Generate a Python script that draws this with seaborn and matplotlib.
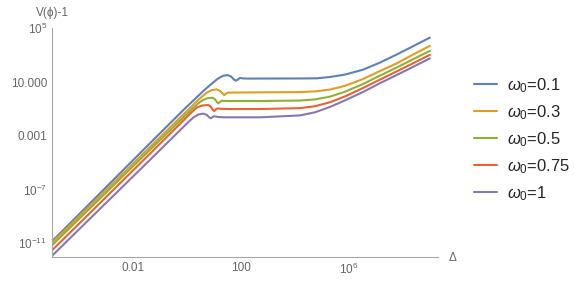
import matplotlib
matplotlib.use("Agg")
from matplotlib import pyplot as plt
from matplotlib.ticker import FixedLocator, FixedFormatter, NullFormatter
import pandas as pd
import seaborn as sns

# values (Delta, V(phi)-1) for each omega_0
delta_01 = [1e-5, 0.043, 0.84, 4.6, 8.4, 14, 21.5, 32, 43, 55, 65, 77, 92, 119, 215,
            1.53e4, 6.5e4, 2.0e5, 7.1e5, 3.3e6, 1.4e7, 5.85e7, 2.34e8, 1e9]
v_01 = [1.35e-11, 2.8e-4, 0.107, 2.75, 7.8, 18, 29, 33, 26, 15.5, 12.6, 15.5, 20.4, 18.6, 18.2,
        18.6, 19, 24, 36, 83, 280, 1120, 4600, 2.05e4]

delta_03 = [1e-5, 0.043, 1.98, 3.6, 5.5, 8.4, 12.6, 16.7, 20.7, 24, 27.8, 33, 46.5, 506,
            1.53e4, 5.5e4, 2.0e5, 7.1e5, 3.3e6, 1.4e7, 5.85e7, 2.34e8, 1e9]
v_03 = [1.05e-11, 1.45e-4, 0.275, 0.83, 1.66, 2.54, 2.86, 2.21, 1.39, 1.08, 1.37, 1.63, 1.66, 1.71,
        1.80, 2.0, 2.77, 5.2, 16.7, 66, 245, 1110, 5000]

delta_05 = [1e-5, 0.043, 1.53, 2.55, 3.92, 5.74, 8.65, 10.9, 12.9, 14.4, 16.7, 19.3, 25.5, 39.2, 506,
            1.53e4, 5.5e4, 2.0e5, 7.1e5, 3.3e6, 1.4e7, 5.85e7, 2.34e8, 1e9]
v_05 = [6.8e-12, 9.1e-5, 0.098, 0.25, 0.457, 0.624, 0.68, 0.525, 0.325, 0.26, 0.325, 0.40, 0.393, 0.386, 0.386,
        0.42, 0.507, 0.82, 1.9, 7.1, 29.9, 120, 489, 2130]

delta_075 = [1e-5, 0.043, 1.53, 2.34, 3.6, 6.15, 7.74, 9.18, 10.3, 11.9, 13.7, 18.2, 39.2, 506,
             1.53e4, 5.5e4, 2.0e5, 7.1e5, 3.3e6, 1.4e7, 5.85e7, 2.34e8, 1e9]
v_075 = [2.9e-12, 4.7e-5, 0.059, 0.127, 0.178, 0.195, 0.143, 0.0826, 0.0695, 0.0946, 0.109, 0.101, 0.098, 0.098,
         0.114, 0.158, 0.314, 0.85, 3.58, 15.1, 62.5, 246, 1075]

delta_1 = [1e-5, 0.043, 1.09, 1.67, 2.55, 4.08, 5.5, 6.8, 7.74, 9.04, 10.3, 14.1, 25.5, 506,
           1.53e4, 5.5e4, 2.0e5, 7.1e5, 3.3e6, 1.4e7, 5.85e7, 2.34e8, 1e9]
v_1 = [1.12e-12, 1.62e-5, 0.0098, 0.0219, 0.0375, 0.0446, 0.0351, 0.0229, 0.02, 0.0258, 0.0285, 0.0249, 0.0236, 0.0236,
       0.0327, 0.0557, 0.14, 0.428, 1.8, 8.15, 33.2, 133, 580]

labels = [r"$\omega_0$=0.1", r"$\omega_0$=0.3", r"$\omega_0$=0.5", r"$\omega_0$=0.75", r"$\omega_0$=1"]
colors = ["#5E81B5", "#E19C24", "#8FB032", "#EB6235", "#8778B3"]

x_ticks = [1e-2, 1e2, 1e6]
x_labels = ["0.01", "100", r"$10^{6}$"]
y_ticks = [1e-11, 1e-7, 1e-3, 1e1, 1e5]
y_labels = [r"$10^{-11}$", r"$10^{-7}$", "0.001", "10.000", r"$10^{5}$"]

frames = []
for d, v, lab in zip([delta_01, delta_03, delta_05, delta_075, delta_1],
                     [v_01, v_03, v_05, v_075, v_1], labels):
    frames.append(pd.DataFrame({"Delta": d, "V": v, "omega": lab}))
df = pd.concat(frames, ignore_index=True)

sns.set_style("white")
plt.rcParams["font.family"] = ["Liberation Sans", "DejaVu Sans"]
plt.rcParams["mathtext.fontset"] = "custom"
plt.rcParams["mathtext.rm"] = "Liberation Sans"
plt.rcParams["mathtext.it"] = "Liberation Sans:italic"

gray = "#a6a6a6"
text_gray = "#666666"

fig = plt.figure(figsize=(5.74, 2.82), dpi=100)
ax = fig.add_axes([52 / 574, 25 / 282, 386 / 574, 229 / 282])

sns.lineplot(data=df, x="Delta", y="V", hue="omega", palette=colors, linewidth=1.5,
             estimator=None, sort=False, ax=ax)
ax.set_xscale("log")
ax.set_yscale("log")
ax.set_xlim(1e-5, 2e9)
ax.set_ylim(9.2e-13, 1.07e5)

ax.xaxis.set_major_locator(FixedLocator(x_ticks))
ax.xaxis.set_major_formatter(FixedFormatter(x_labels))
ax.xaxis.set_minor_locator(FixedLocator([10.0 ** k for k in range(-5, 10) if 10.0 ** k not in x_ticks]))
ax.xaxis.set_minor_formatter(NullFormatter())
ax.yaxis.set_major_locator(FixedLocator(y_ticks))
ax.yaxis.set_major_formatter(FixedFormatter(y_labels))
ax.yaxis.set_minor_locator(FixedLocator([10.0 ** k for k in range(-12, 6) if 10.0 ** k not in y_ticks]))
ax.yaxis.set_minor_formatter(NullFormatter())

ax.tick_params(which="major", direction="in", length=3, width=0.8, color=gray,
               labelcolor=text_gray, labelsize=8.5, pad=3.5)
ax.tick_params(which="minor", direction="in", length=1.8, width=0.7, color=gray)
for side in ["top", "right"]:
    ax.spines[side].set_visible(False)
for side in ["left", "bottom"]:
    ax.spines[side].set_color(gray)
    ax.spines[side].set_linewidth(0.8)
ax.set_xlabel("")
ax.set_ylabel("")

handles, labs = ax.get_legend_handles_labels()
ax.get_legend().remove()
fig.legend(handles, labs, loc="center left", bbox_to_anchor=(474 / 574, 1 - 139.5 / 282),
           frameon=False, fontsize=12, handlelength=1.4, handletextpad=0.6,
           labelspacing=0.5, borderpad=0, borderaxespad=0)

fig.text(453 / 574, 1 - 258 / 282, "Δ", ha="center", va="center", color=text_gray, fontsize=8.5)
fig.text(52 / 574, 1 - 13 / 282, "V(ϕ)-1", ha="center", va="center", color=text_gray, fontsize=8.5)

fig.savefig("out.png", dpi=100)
